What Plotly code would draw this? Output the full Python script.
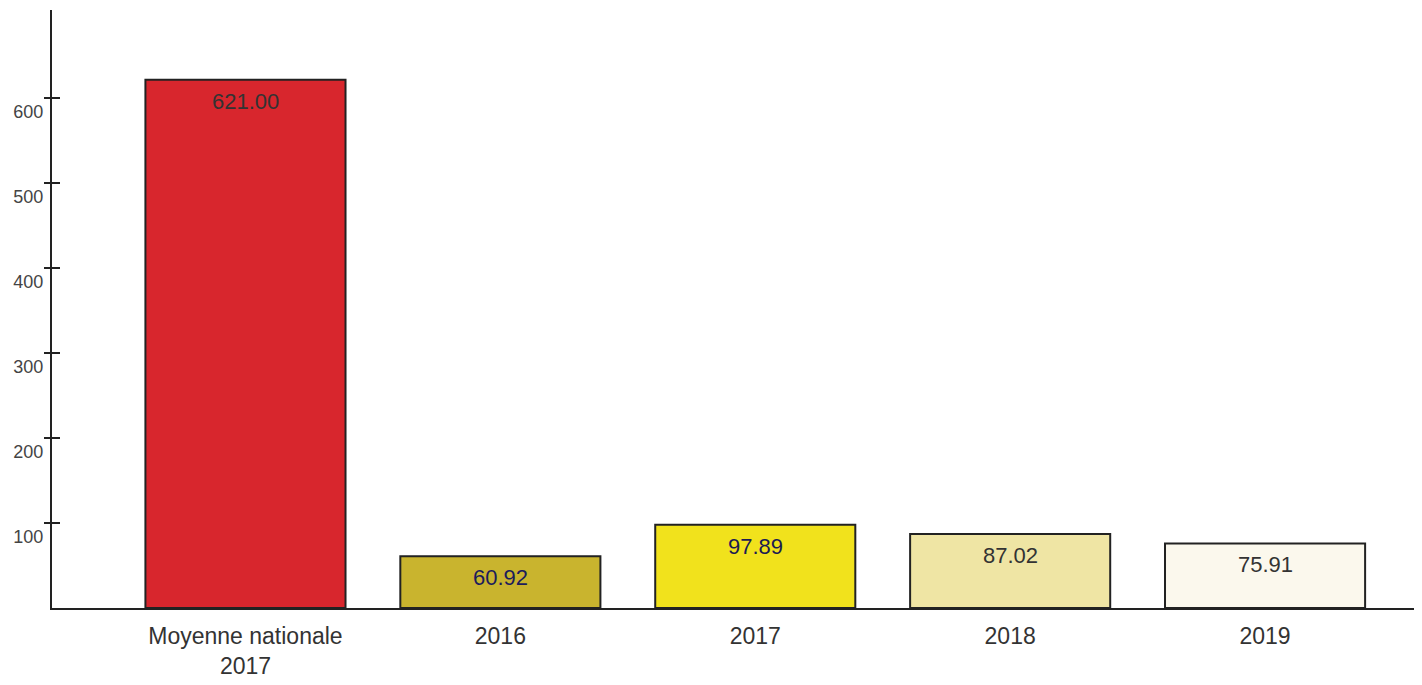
import plotly.graph_objects as go

categories = ["Moyenne nationale<br>2017", "2016", "2017", "2018", "2019"]
values = [621.00, 60.92, 97.89, 87.02, 75.91]
value_labels = ["621.00", "60.92", "97.89", "87.02", "75.91"]
bar_colors = ["#d8262d", "#c9b42e", "#f1e21c", "#efe5a4", "#fbf8ed"]
label_colors = ["#333333", "#1c1c5c", "#1c1c52", "#333333", "#333333"]
tick_vals = [100, 200, 300, 400, 500, 600]

FONT = "Liberation Sans, Arial, sans-serif"

fig = go.Figure()
fig.add_trace(go.Bar(
    x=list(range(len(categories))), y=values,
    marker=dict(color=bar_colors, line=dict(color="#222222", width=2)),
    width=0.785, hoverinfo="skip",
))
# invisible trace for the crossing-tick overlay axis
fig.add_trace(go.Scatter(x=[0], y=[0], yaxis="y2", mode="markers",
                         marker=dict(opacity=0), hoverinfo="skip", showlegend=False))

for i, (v, t, c) in enumerate(zip(values, value_labels, label_colors)):
    fig.add_annotation(x=i, y=v, text=t, showarrow=False, yanchor="top", yshift=-7,
                       font=dict(family=FONT, size=22, color=c))

fig.update_layout(
    width=1422, height=685,
    margin=dict(l=44, r=12, t=2, b=85),
    paper_bgcolor="white", plot_bgcolor="white",
    showlegend=False,
    font=dict(family=FONT, color="#333333"),
    xaxis=dict(
        range=[-0.759, 4.6], tickmode="array",
        tickvals=list(range(len(categories))), ticktext=categories,
        showgrid=False, zeroline=False, showline=True, linecolor="#222222", linewidth=2,
        ticks="", tickfont=dict(size=23, color="#333333"), ticklabelstandoff=6,
        automargin=False,
    ),
    yaxis=dict(
        range=[0, 703], tickmode="array", tickvals=tick_vals,
        showgrid=False, zeroline=False, showline=True, linecolor="#222222", linewidth=2,
        ticks="outside", ticklen=6, tickwidth=2, tickcolor="#222222",
        ticklabelposition="outside bottom", ticklabelstandoff=3,
        tickfont=dict(size=18, color="#444444"),
        automargin=False,
    ),
    yaxis2=dict(
        range=[0, 703], overlaying="y", side="left", anchor="x",
        tickmode="array", tickvals=tick_vals, showticklabels=False,
        showgrid=False, zeroline=False, showline=False,
        ticks="inside", ticklen=8, tickwidth=2, tickcolor="#222222",
        automargin=False,
    ),
)

fig.write_html("out.html")
